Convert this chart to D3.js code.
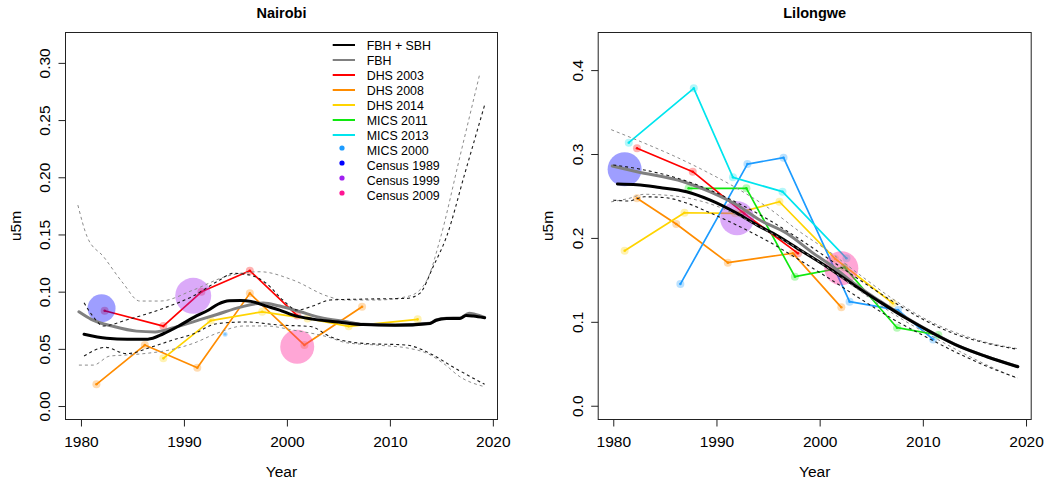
<!DOCTYPE html>
<html><head><meta charset="utf-8">
<script src="https://cdn.jsdelivr.net/npm/d3@7"></script>
<style>body{margin:0;background:#fff}svg{display:block;font-family:"Liberation Sans",Arial,Helvetica,sans-serif}</style>
</head><body><svg id="c" width="1050" height="484"></svg>
<script>
// ---------------- DATA ----------------
const panelTitles = ["Nairobi", "Lilongwe"];
const xTickValues = [1980, 1990, 2000, 2010, 2020];
const nbYTicks = [0, 0.05, 0.10, 0.15, 0.20, 0.25, 0.30];
const llYTicks = [0, 0.1, 0.2, 0.3, 0.4];
const legendLabels = ["FBH + SBH","FBH","DHS 2003","DHS 2008","DHS 2014","MICS 2011","MICS 2013","MICS 2000","Census 1989","Census 1999","Census 2009"];

// Nairobi: smoothed estimates
const nbFbhSbhYears = [1980.3,1982.5,1984.5,1986.5,1988.0,1989.5,1991.0,1992.4,1993.3,1994.4,1995.5,1996.5,1998.0,1999.3,2000.6,2002.5,2005.0,2007.4,2010.5,2013.9,2014.5,2015.5,2016.8,2017.4,2018.1,2019.2];
const nbFbhSbh      = [0.0627,0.0592,0.0584,0.0585,0.0632,0.0700,0.0778,0.0840,0.0890,0.0920,0.0922,0.0915,0.0874,0.0839,0.0795,0.0760,0.0735,0.0712,0.0706,0.0722,0.0750,0.0765,0.0766,0.0792,0.0787,0.0772];
const nbFbhYears = [1979.8,1981.0,1983.2,1985.4,1987.2,1989.0,1991.2,1993.2,1995.5,1997.7,1999.3,2001.3,2003.2,2005.8,2007.4,2010.5,2013.9,2014.5,2015.5,2016.8,2017.7,2018.3,2019.2];
const nbFbh      = [0.0824,0.0758,0.0695,0.0655,0.0648,0.0685,0.0745,0.0800,0.0865,0.0900,0.0874,0.0824,0.0775,0.0737,0.0714,0.0708,0.0724,0.0752,0.0768,0.0770,0.0812,0.0800,0.0775];
const nbFbhSbhHiYears = [1980.3,1981.2,1982.2,1984.4,1987.7,1990.9,1993.2,1994.8,1996.4,1998.0,1999.6,2001.0,2002.5,2004.2,2007.4,2011.6,2012.9,2014.2,2015.5,2017.3,2019.2];
const nbFbhSbhHi      = [0.0903,0.0780,0.0700,0.0752,0.0845,0.0962,0.1087,0.1160,0.1145,0.1073,0.0927,0.0839,0.0874,0.0927,0.0935,0.0941,0.0985,0.1218,0.1480,0.2040,0.2631];
const nbFbhSbhLoYears = [1980.3,1982.4,1984.4,1987.0,1989.0,1990.9,1993.2,1996.0,1999.3,2002.3,2004.2,2007.4,2011.6,2013.9,2016.1,2019.2];
const nbFbhSbhLo      = [0.0437,0.0513,0.0458,0.0520,0.0580,0.0630,0.0720,0.0735,0.0708,0.0695,0.0606,0.0548,0.0533,0.0460,0.0343,0.0190];
const nbFbhHiYears = [1979.7,1980.6,1982.2,1984.1,1985.7,1987.7,1990.9,1994.2,1997.4,2000.6,2003.9,2005.5,2008.7,2011.9,2013.6,2014.85,2016.8,2018.74];
const nbFbhHi      = [0.1757,0.1480,0.1305,0.1073,0.0918,0.0918,0.1014,0.1136,0.1174,0.1101,0.0962,0.0927,0.0927,0.0962,0.1101,0.1450,0.2180,0.2908];
const nbFbhLoYears = [1979.8,1981.2,1982.8,1984.4,1986.4,1988.6,1990.9,1993.2,1995.8,1998.0,2000.6,2003.9,2005.8,2008.7,2011.9,2013.6,2015.2,2016.8,2019.2];
const nbFbhLo      = [0.0358,0.0358,0.0437,0.0446,0.0461,0.0490,0.0548,0.0636,0.0700,0.0700,0.0664,0.0606,0.0553,0.0533,0.0504,0.0461,0.0373,0.0256,0.0169];
// Nairobi: survey direct estimates
const nbDhs2003Years = [1982.3,1988.0,1991.7,1996.4,2001.0];
const nbDhs2003      = [0.0833,0.0699,0.0999,0.1183,0.0791];
const nbDhs2008Years = [1981.5,1986.2,1991.3,1996.4,2001.7,2007.3];
const nbDhs2008      = [0.0190,0.0533,0.0335,0.0985,0.0533,0.0868];
const nbDhs2014Years = [1988.0,1992.6,1997.6,2002.0,2006.0,2012.7];
const nbDhs2014      = [0.0417,0.0747,0.0824,0.0765,0.0697,0.0758];
const nbMics2000Years = [1994.0];
const nbMics2000      = [0.0627];
const nbCensusYears = [1982.0,1990.9,2001.0];
const nbCensus      = [0.0854,0.0964,0.0518];

// Lilongwe: smoothed estimates
const llFbhSbhYears = [1980.4,1982.3,1984.5,1987.1,1989.4,1992.0,1994.2,1995.5,1998.1,2000.7,2003.3,2005.8,2008.4,2011.0,2013.6,2016.2,2019.2];
const llFbhSbh      = [0.2642,0.2634,0.2600,0.2550,0.2450,0.2293,0.2135,0.2055,0.1856,0.1657,0.1439,0.1240,0.1042,0.0863,0.0703,0.0584,0.0465];
const llFbhYears = [1979.9,1982.3,1986.8,1989.4,1992.0,1994.2,1996.8,1999.4,2001.3,2003.3,2005.8,2008.4,2011.0,2013.6,2016.2,2019.2];
const llFbh      = [0.2857,0.2789,0.2670,0.2550,0.2392,0.2213,0.2055,0.1816,0.1657,0.1460,0.1250,0.1048,0.0866,0.0705,0.0586,0.0467];
const llFbhSbhHiYears = [1980.0,1983.0,1986.0,1989.0,1992.0,1995.0,1998.0,2001.0,2004.0,2007.0,2010.0,2013.0,2016.0,2019.2];
const llFbhSbhHi      = [0.2870,0.2810,0.2720,0.2590,0.2420,0.2220,0.1990,0.1740,0.1490,0.1250,0.1030,0.0860,0.0750,0.0672];
const llFbhSbhLoYears = [1980.0,1981.5,1983.0,1985.0,1987.0,1989.0,1992.0,1995.0,1998.0,2001.0,2004.0,2007.0,2010.0,2013.0,2016.0,2019.2];
const llFbhSbhLo      = [0.2450,0.2440,0.2490,0.2480,0.2420,0.2320,0.2150,0.1960,0.1740,0.1510,0.1270,0.1040,0.0840,0.0650,0.0480,0.0330];
const llFbhHiYears = [1979.8,1983.0,1986.0,1989.0,1992.0,1995.0,1998.0,2001.0,2004.0,2007.0,2010.0,2013.0,2016.0,2019.2];
const llFbhHi      = [0.3290,0.3130,0.2970,0.2790,0.2590,0.2360,0.2080,0.1830,0.1550,0.1280,0.1050,0.0880,0.0760,0.0680];
const llFbhLoYears = [1979.8,1981.5,1983.0,1985.0,1987.0,1990.0,1993.0,1996.0,1999.0,2002.0,2005.0,2008.0,2011.0,2014.0,2017.0,2019.2];
const llFbhLo      = [0.2430,0.2470,0.2520,0.2510,0.2480,0.2380,0.2210,0.2010,0.1790,0.1540,0.1270,0.1030,0.0820,0.0620,0.0440,0.0325];
// Lilongwe: survey direct estimates
const llDhs2003Years = [1982.3,1987.7,1992.7,1997.9];
const llDhs2003      = [0.3068,0.2789,0.2290,0.1816];
const llDhs2008Years = [1982.3,1986.1,1991.1,1997.4,2002.1];
const llDhs2008      = [0.2472,0.2166,0.1705,0.1817,0.1173];
const llDhs2014Years = [1981.1,1986.9,1991.8,1996.1,2001.5,2007.1];
const llDhs2014      = [0.1847,0.2300,0.2293,0.2431,0.1752,0.1220];
const llMics2011Years = [1987.3,1992.9,1997.6,2002.4,2007.5,2011.5];
const llMics2011      = [0.2591,0.2591,0.1538,0.1650,0.0930,0.0843];
const llMics2013Years = [1981.5,1987.8,1991.6,1996.4,2002.6];
const llMics2013      = [0.3135,0.3783,0.2722,0.2551,0.1757];
const llMics2000Years = [1986.5,1993.0,1996.5,2002.9,2007.6,2011.0];
const llMics2000      = [0.1450,0.2880,0.2956,0.1240,0.1140,0.0790];
const llCensusYears = [1981.1,1992.0,2002.1];
const llCensus      = [0.2818,0.2234,0.1638];

// ---------------- STYLE ----------------
const colorOf = {"FBH + SBH":"#000000","FBH":"#808080","DHS 2003":"#FF0000","DHS 2008":"#FF8C00","DHS 2014":"#FFD400","MICS 2011":"#10E810","MICS 2013":"#00E5EE","MICS 2000":"#1C9BFF","Census 1989":"#0000FF","Census 1999":"#A020F0","Census 2009":"#FF1493"};
const censusNames = ["Census 1989","Census 1999","Census 2009"];
const zip = (xs, ys) => xs.map((x,i)=>({x:x, y:ys[i]}));

const svg = d3.select("#c");
const FONT = 15.5;

const panels = [
  { title: panelTitles[0], x0:65, x1:498, y0:32, y1:420, xd:[1978.45,2020.5], yd:[-0.0122,0.327],
    yTicks: nbYTicks, yFmt: d3.format(".2f"), ylabX: 15,
    fbhSbh: zip(nbFbhSbhYears, nbFbhSbh), fbh: zip(nbFbhYears, nbFbh),
    ciA: [zip(nbFbhSbhHiYears, nbFbhSbhHi), zip(nbFbhSbhLoYears, nbFbhSbhLo)],
    ciB: [zip(nbFbhHiYears, nbFbhHi), zip(nbFbhLoYears, nbFbhLo)],
    surveys: [["DHS 2003", zip(nbDhs2003Years, nbDhs2003)], ["DHS 2008", zip(nbDhs2008Years, nbDhs2008)],
              ["DHS 2014", zip(nbDhs2014Years, nbDhs2014)], ["MICS 2000", zip(nbMics2000Years, nbMics2000)]],
    census: zip(nbCensusYears, nbCensus), censusR: [14, 18, 17], legend: true },
  { title: panelTitles[1], x0:597.7, x1:1031.7, y0:32, y1:420, xd:[1978.49,2020.55], yd:[-0.017,0.4454],
    yTicks: llYTicks, yFmt: d3.format(".1f"), ylabX: 547,
    fbhSbh: zip(llFbhSbhYears, llFbhSbh), fbh: zip(llFbhYears, llFbh),
    ciA: [zip(llFbhSbhHiYears, llFbhSbhHi), zip(llFbhSbhLoYears, llFbhSbhLo)],
    ciB: [zip(llFbhHiYears, llFbhHi), zip(llFbhLoYears, llFbhLo)],
    surveys: [["DHS 2008", zip(llDhs2008Years, llDhs2008)], ["DHS 2014", zip(llDhs2014Years, llDhs2014)],
              ["MICS 2000", zip(llMics2000Years, llMics2000)], ["MICS 2013", zip(llMics2013Years, llMics2013)],
              ["MICS 2011", zip(llMics2011Years, llMics2011)], ["DHS 2003", zip(llDhs2003Years, llDhs2003)]],
    census: zip(llCensusYears, llCensus), censusR: [17, 17, 17], legend: false }
];

panels.forEach(p => {
  const x = d3.scaleLinear().domain(p.xd).range([p.x0, p.x1]);
  const y = d3.scaleLinear().domain(p.yd).range([p.y1, p.y0]);
  const g = svg.append("g");
  const clipId = "clip" + p.title;
  svg.append("clipPath").attr("id", clipId).append("rect")
    .attr("x", p.x0).attr("y", p.y0).attr("width", p.x1 - p.x0).attr("height", p.y1 - p.y0);
  const plot = g.append("g").attr("clip-path", `url(#${clipId})`);

  const lin = d3.line().x(d=>x(d.x)).y(d=>y(d.y));
  const smooth = d3.line().x(d=>x(d.x)).y(d=>y(d.y)).curve(d3.curveMonotoneX);

  // survey lines
  p.surveys.forEach(([name, pts]) => {
    const c = colorOf[name];
    if (pts.length > 1) {
      plot.append("path").attr("d", lin(pts)).attr("fill","none").attr("stroke", c)
        .attr("stroke-width", 1.7).attr("stroke-linejoin","round");
    }
    plot.selectAll(null).data(pts).enter().append("circle")
      .attr("cx", d=>x(d.x)).attr("cy", d=>y(d.y)).attr("r", pts.length>1 ? 4 : 2.5)
      .attr("fill", c).attr("opacity", 0.3);
    plot.selectAll(null).data(pts).enter().append("circle")
      .attr("cx", d=>x(d.x)).attr("cy", d=>y(d.y)).attr("r", 1.3)
      .attr("fill", c).attr("opacity", pts.length>1 ? 0.9 : 0.4);
  });

  // census circles
  plot.selectAll(null).data(p.census).enter().append("circle")
    .attr("cx", d=>x(d.x)).attr("cy", d=>y(d.y)).attr("r", (d,i)=>p.censusR[i])
    .attr("fill", (d,i)=>colorOf[censusNames[i]]).attr("opacity", 0.38);

  // smoothed estimates
  plot.append("path").attr("d", smooth(p.fbh)).attr("fill","none").attr("stroke", colorOf["FBH"])
    .attr("stroke-width", 3).attr("stroke-linejoin","round").attr("stroke-linecap","round");
  plot.append("path").attr("d", smooth(p.fbhSbh)).attr("fill","none").attr("stroke", colorOf["FBH + SBH"])
    .attr("stroke-width", 3).attr("stroke-linejoin","round").attr("stroke-linecap","round");

  // uncertainty bounds
  p.ciB.forEach(s => plot.append("path").attr("d", smooth(s)).attr("fill","none")
    .attr("stroke", "#8c8c8c").attr("stroke-width", 1).attr("stroke-dasharray","3,3"));
  p.ciA.forEach(s => plot.append("path").attr("d", smooth(s)).attr("fill","none")
    .attr("stroke", "#1a1a1a").attr("stroke-width", 1.1).attr("stroke-dasharray","3,3"));

  // box
  g.append("rect").attr("x", p.x0 + 0.5).attr("y", p.y0 + 0.5)
    .attr("width", p.x1 - p.x0 - 1).attr("height", p.y1 - p.y0 - 1)
    .attr("fill","none").attr("stroke","#222").attr("stroke-width",1);

  // x axis
  const ax = g.append("g").attr("transform", `translate(0,${p.y1 - 0.5})`)
    .call(d3.axisBottom(x).tickValues(xTickValues).tickFormat(d3.format("d")).tickSize(7).tickPadding(9));
  ax.select(".domain").remove();
  ax.selectAll("line").attr("stroke","#222");
  ax.selectAll("text").attr("font-size", FONT).attr("font-family", null).attr("fill","#000");

  // y axis
  const ay = g.append("g").attr("transform", `translate(${p.x0 + 0.5},0)`)
    .call(d3.axisLeft(y).tickValues(p.yTicks).tickFormat(p.yFmt).tickSize(7));
  ay.select(".domain").remove();
  ay.selectAll("line").attr("stroke","#222");
  ay.selectAll("text").attr("font-size", FONT).attr("font-family", null).attr("fill","#000")
    .attr("x", null).attr("dy", "0.35em").attr("text-anchor","middle")
    .attr("transform", "translate(-21,0) rotate(-90)");

  // titles
  g.append("text").attr("x", (p.x0 + p.x1)/2).attr("y", 17.5).attr("text-anchor","middle")
    .attr("font-size", 14.5).attr("font-weight","bold").text(p.title);
  g.append("text").attr("x", (p.x0 + p.x1)/2).attr("y", 477).attr("text-anchor","middle")
    .attr("font-size", FONT).text("Year");
  g.append("text").attr("transform", `translate(${p.ylabX + 5.5},${(p.y0 + p.y1)/2}) rotate(-90)`)
    .attr("text-anchor","middle").attr("font-size", FONT).text("u5m");

  // legend
  if (p.legend) {
    const lg = g.append("g");
    legendLabels.forEach((lab, i) => {
      const yy = 45 + i * 15;
      if (i < 7) {
        lg.append("line").attr("x1", 332.7).attr("x2", 355).attr("y1", yy).attr("y2", yy)
          .attr("stroke", colorOf[lab]).attr("stroke-width", 2);
      } else {
        lg.append("circle").attr("cx", 342).attr("cy", yy - 2).attr("r", 2.6).attr("fill", colorOf[lab]);
      }
      lg.append("text").attr("x", 366.7).attr("y", yy + 4.5).attr("font-size", 12.4).text(lab);
    });
  }
});
</script></body></html>
